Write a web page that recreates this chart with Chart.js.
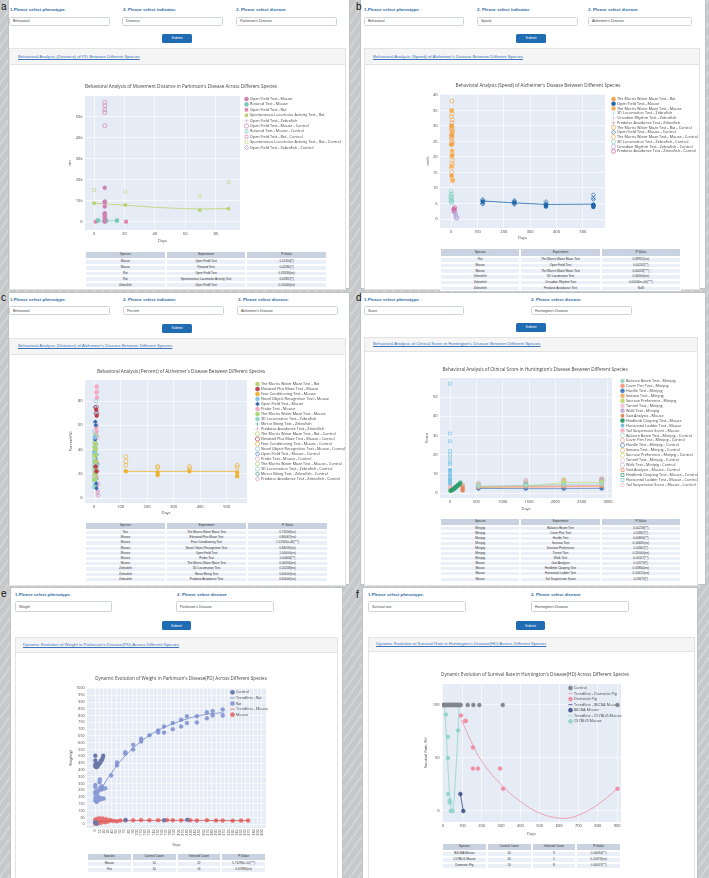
<!DOCTYPE html>
<html><head><meta charset="utf-8">
<script src="https://cdn.jsdelivr.net/npm/chart.js@4.4.1/dist/chart.umd.min.js"></script>
<style>
html,body{margin:0;padding:0}
body{width:709px;height:878px;overflow:hidden;position:relative;font-family:'Liberation Sans',Arial,sans-serif;
background:repeating-linear-gradient(125deg,#c6c8ca 0px,#c6c8ca 5px,#d2d4d6 5px,#d2d4d6 7px);}
div{box-sizing:border-box}
.card{position:absolute;background:#fff;border:1px solid #bfc3c7}
.ltr{position:absolute;font-size:10px;line-height:10px;color:#111;font-family:'Liberation Sans',Arial,sans-serif}
.lab{position:absolute;font-size:4.4px;line-height:4.4px;font-weight:bold;color:#2f6aa3;white-space:nowrap}
.inp{position:absolute;border:0.6px solid #cfd3d8;border-radius:1.5px;background:#fff;font-size:3.5px;color:#444;padding-left:3px;display:flex;align-items:center;white-space:nowrap}
.btn{position:absolute;background:#1f6cb3;color:#fff;border-radius:1.5px;font-size:3.5px;display:flex;align-items:center;justify-content:center}
.inner{position:absolute;border:0.6px solid #e3e3e3;background:#fff}
.hdr{position:absolute;background:#f5f5f5;border:0.6px solid #e3e3e3}
.lnk{position:absolute;font-size:4.3px;line-height:4.3px;color:#3a74bd;text-decoration:underline;white-space:nowrap}
.th,.td{position:absolute;display:flex;align-items:center;justify-content:center;font-size:3.1px;line-height:1;color:#333;border:0.35px solid #fff;white-space:nowrap}
.th{background:#c8d2e0}
.td{background:#ebf0f8}
canvas{position:absolute}
</style></head>
<body>
<script>
// ====================== DATA ======================
// Panel a : distance (cm), Parkinson's disease
const A_XTICKS = [0,20,40,60,80];
const A_YTICKS = [0,10000,20000,30000,40000,50000];
const A_OF_MOUSE   = [[7,16200],[7,9700],[7,9200],[7,7300],[7,4100],[7,2900],[7,1900],[7,300]];
const A_RR_MOUSE   = [[2.5,600],[8,500],[15,600]];
const A_OF_RAT     = [[1,100],[7,200],[21,100]];
const A_SLA_RAT    = [[0,8900],[20.5,8100],[69.5,5600],[88.5,6300]];
const A_OF_ZF      = [[7,4300],[7,3600],[7,1400],[7,600]];
const A_OF_MOUSE_C = [[7,56800],[7,55200],[7,53300],[7,51900],[7,45700],[7,3800],[7,400]];
const A_RR_MOUSE_C = [[2.5,900],[8,900],[15,900]];
const A_OF_RAT_C   = [[1,200],[7,400],[21,200]];
const A_SLA_RAT_C  = [[0,15200],[20.5,14300],[69.5,12500],[88.5,19000]];
const A_OF_ZF_C    = [[7,900],[7,300]];
const A_SLA_TREND  = [[0,8900],[20,8000],[45,6800],[70,6200],[88.5,6400]];
const A_HEAD = ['Species','Experiment','P-Value'];
const A_SPECIES = ['Mouse','Mouse','Rat','Rat','Zebrafish'];
const A_EXPERIMENT = ['Open Field Test','Rotarod Test','Open Field Test','Spontaneous Locomotor Activity Test','Open Field Test'];
const A_PVALUE = ['0.01300(*)','0.02381(*)','0.33333(ns)','0.02857(*)','0.10000(ns)'];

// Panel b : speed (cm/s), Alzheimer's disease
const B_XTICKS = [0,100,200,300,400,500];
const B_YTICKS = [0,5,10,15,20,25,30,35,40];
const B_MWM_RAT    = [[2,30],[3,27],[1,24],[4,20.5],[2,14]];
const B_OF_MOUSE   = [[120,5.6],[240,5.3],[360,4.5],[360,4.0],[540,4.3],[540,3.9],[540,4.6]];
const B_MWM_MOUSE  = [[3,35],[5,28],[4,22],[2,17],[6,12.5]];
const B_3D_ZF      = [[0,8.5],[2,7.5],[-1,6.5],[3,6],[1,5.5]];
const B_CR_ZF      = [[14,2.5],[16,1.8],[18,1.2]];
const B_PA_ZF      = [[11,3.5],[13,3],[12,2.6]];
const B_MWM_RAT_C  = [[3,38],[2,35],[4,34],[1,33],[5,32],[3,31],[2,30],[4,29.5],[1,29],[5,28.5],[3,28],[2,27],[4,26.5],[1,26],[3,25],[5,24.5],[2,24]];
const B_OF_MOUSE_C = [[120,6.3],[120,5.9],[120,5.0],[120,4.8],[240,6.0],[240,5.6],[240,5.0],[240,4.7],[360,5.6],[360,5.0],[360,4.6],[540,7.8],[540,6.8],[540,6.3],[540,4.5]];
const B_MWM_MOUSE_C= [[4,21],[2,20],[6,19],[3,18],[5,17.5],[1,16.5],[3,15],[4,13],[6,12.3]];
const B_3D_ZF_C    = [[0,9],[2,8],[-1,7.2],[1,6.8],[3,6.2],[0,5.8],[2,5.2]];
const B_CR_ZF_C    = [[15,2.2],[17,1.5],[19,0.8],[20,0.5],[21,0.2]];
const B_PA_ZF_C    = [[10,3.2],[12,2.8],[14,3.6],[11,2.4]];
const B_OF_MEAN    = [[120,5.8],[240,5.2],[360,4.7],[540,4.8]];
const B_SPECIES = ['Rat','Mouse','Mouse','Zebrafish','Zebrafish','Zebrafish'];
const B_EXPERIMENT = ['The Morris Water Maze Test','Open Field Test','The Morris Water Maze Test','3D Locomotion Test','Circadian Rhythm Test','Predator Avoidance Test'];
const B_PVALUE = ['0.69952(ns)','0.00242(**)','0.00023(***)','0.64000(ns)','0.00000e+00(***)','NaN'];

// Panel c : percent (%), Alzheimer's disease
const C_XTICKS = [0,100,200,300,400,500];
const C_YTICKS = [0,20,40,60,80];
const C_MWM_RAT     = [[5,45],[7,40],[3,35],[6,30]];
const C_EPM_MOUSE   = [[8,73],[10,68],[6,26],[9,22]];
const C_FC_MOUSE    = [[120,22],[240,21],[240,19],[360,22],[540,21],[540,18]];
const C_NOR_MOUSE   = [[3,50],[5,45],[2,38],[4,30]];
const C_OF_MOUSE    = [[5,63],[7,60],[4,48],[6,45],[8,12],[9,8]];
const C_PROBE_MOUSE = [[10,92],[9,87],[11,83],[8,58],[10,55]];
const C_MWM_MOUSE   = [[2,42],[4,36],[3,30],[5,25],[6,20],[2,15]];
const C_3D_ZF       = [[0,35],[2,30],[1,25],[3,20],[0,15],[2,10]];
const C_MB_ZF       = [[7,42],[9,33],[12,25],[8,20]];
const C_PA_ZF       = [[12,18],[14,10],[15,6],[13,3]];
const C_MWM_RAT_C   = [[4,52],[6,44],[2,38]];
const C_EPM_MOUSE_C = [[9,75],[11,70],[7,30]];
const C_FC_MOUSE_C  = [[120,34],[120,30],[120,27],[240,26],[240,25],[360,26],[360,24],[540,27],[540,25],[3,20],[5,17]];
const C_NOR_MOUSE_C = [[7,80],[5,62],[3,55],[6,28]];
const C_OF_MOUSE_C  = [[4,75],[6,70],[5,50],[8,10]];
const C_PROBE_MOUSE_C=[[11,88],[9,60],[12,50],[10,22]];
const C_MWM_MOUSE_C = [[3,46],[5,40],[2,33],[4,28],[6,22],[3,18]];
const C_3D_ZF_C     = [[1,38],[3,32],[0,27],[2,22],[1,17],[3,13],[0,9]];
const C_MB_ZF_C     = [[8,52],[10,36],[13,28],[9,16]];
const C_PA_ZF_C     = [[13,22],[15,12],[14,5],[16,2]];
const C_FC_MEAN     = [[120,22],[240,22],[360,22],[540,22]];
const C_SPECIES = ['Rat','Mouse','Mouse','Mouse','Mouse','Mouse','Mouse','Zebrafish','Zebrafish','Zebrafish'];
const C_EXPERIMENT = ['The Morris Water Maze Test','Elevated Plus Maze Test','Fear Conditioning Test','Novel Object Recognition Test','Open Field Test','Probe Test','The Morris Water Maze Test','3D Locomotion Test','Mirror Biting Test','Predator Avoidance Test'];
const C_PVALUE = ['0.73206(ns)','0.80067(ns)','1.12565e-06(***)','0.84035(ns)','1.00000(ns)','0.00606(**)','0.06056(ns)','0.20208(ns)','0.60000(ns)','0.60000(ns)'];

// Panel d : clinical score, Huntington's disease
const D_XTICKS = [0,500,1000,1500,2000,2500,3000];
const D_YTICKS = [0,10,20,30,40,50];
const D_BB_MINI  = [[540,3.6],[1440,4],[2160,4.5],[2880,4.8]];
const D_CP_MINI  = [[540,3.2],[1440,3.4],[2160,3.5],[2880,3.8]];
const D_HU_MINI  = [[540,2.4],[1440,2.3],[2160,2.3],[2880,2.4]];
const D_SS_MINI  = [[540,3],[1440,3.1],[2160,3.3],[2880,3.5]];
const D_SP_MINI  = [[540,2.8],[1440,3.4],[2160,5.5],[2880,5.6]];
const D_TU_MINI  = [[540,2.6],[1440,2.8],[2160,3],[2880,3]];
const D_WA_MINI  = [[540,3.4],[1440,3.7],[2160,3.8],[2880,4]];
const D_GA_MOUSE = [[240,2.5],[240,1.8],[240,1.2]];
const D_HC_MOUSE = [[10,1.2],[30,1.5],[50,1.8],[70,2],[90,2.5],[110,3],[130,3.5],[150,4],[170,4.5],[190,5]];
const D_HL_MOUSE = [[0,12],[0,9],[0,7],[0,6],[0,5]];
const D_TS_MOUSE = [[0,2],[5,3]];
const D_BB_MINI_C  = [[540,4.8],[1440,5.2],[2160,5.5],[2880,6]];
const D_CP_MINI_C  = [[540,4.5],[1440,6],[2160,6.2],[2880,7]];
const D_HU_MINI_C  = [[540,3],[1440,4.5],[2160,4],[2880,6.5]];
const D_SS_MINI_C  = [[540,4],[1440,5],[2160,6.5],[2880,6.8]];
const D_SP_MINI_C  = [[540,3.8],[1440,4.5],[2160,7],[2880,5.5]];
const D_TU_MINI_C  = [[540,4.2],[1440,5.5],[2160,5.8],[2880,7.2]];
const D_WA_MINI_C  = [[540,5],[1440,6.5],[2160,6],[2880,7.5]];
const D_GA_MOUSE_C = [[240,4],[240,3.2],[240,2.5],[240,1.5]];
const D_HC_MOUSE_C = [[20,2],[60,2.5],[100,3],[140,3.8],[180,4.5],[200,5.5]];
const D_HL_MOUSE_C = [[0,57],[0,31],[0,27],[0,22],[0,20],[0,18],[0,16],[0,15],[0,12],[0,11],[0,10],[0,8],[0,7],[0,6],[0,5]];
const D_TS_MOUSE_C = [[0,3],[5,4]];
const D_SPECIES = ['Minipig','Minipig','Minipig','Minipig','Minipig','Minipig','Minipig','Mouse','Mouse','Mouse','Mouse'];
const D_EXPERIMENT = ['Balance Beam Test','Cover Pen Test','Hurdle Test','Seesaw Test','Sucrose Preference','Tunnel Test','Walk Test','Gait Analysis','Hindlimb Clasping Test','Horizontal Ladder Test','Tail Suspension Score'];
const D_PVALUE = ['0.00218(**)','0.02667(*)','0.00856(**)','0.14665(ns)','0.02667(*)','0.20000(ns)','0.00117(**)','0.02273(*)','0.05864(ns)','0.10615(ns)','0.03175(*)'];

// Panel e : weight (g), Parkinson's disease
const E_XTICKS = [0,10,20,30,40,50,60,70,80,90,100,110,120,130,140,150,160,170,180,190,200,210,220,230,240,250,260,270,280,290,300,310,320,330,340,350,360,370,380,390,400];
const E_YTICKS = [0,50,100,150,200,250,300,350,400,450,500,550,600,650,700,750,800,850,900,950,1000];
const E_CONTROL = [[0,425],[0,440],[0,470],[0,505],[2,430],[3,420],[4,445],[5,425],[6,435],[8,440],[10,450],[12,455],[14,470],[16,475],[18,490],[19,505],[0,15],[3,5],[73,32],[165,30],[221,33]];
const E_RAT = [[0,175],[0,195],[0,225],[0,240],[0,275],[0,290],[3,165],[3,185],[4,210],[5,235],[6,250],[7,175],[8,190],[9,200],[10,310],[11,330],[12,270],[13,255],[14,185],[15,280],[16,265],[17,190],[18,260],[20,190],[24,265],[38,360],[52,455],[52,435],[72,520],[72,530],[91,585],[91,550],[110,630],[110,610],[130,655],[151,690],[151,675],[165,720],[165,675],[186,745],[186,700],[206,720],[206,770],[220,745],[220,795],[244,750],[244,795],[268,825],[268,780],[282,833],[282,800],[306,845],[306,800]];
const E_RAT_TREND = [[12,250],[38,375],[72,505],[110,610],[150,690],[200,755],[250,800],[300,820],[310,818]];
const E_MOUSE = [[0,5],[0,20],[0,35],[2,10],[2,28],[4,15],[4,40],[6,22],[6,32],[8,8],[8,38],[10,18],[10,45],[12,25],[14,12],[14,35],[16,28],[18,42],[20,20],[22,30],[24,15],[26,38],[28,25],[30,20],[34,32],[38,28],[44,25],[52,22],[60,28],[72,30],[91,30],[110,32],[130,30],[151,30],[172,32],[186,30],[206,30],[228,30],[244,28],[268,30],[290,28],[306,28],[330,27],[350,28],[367,28]];
const E_MOUSE_TREND = [[0,22],[100,28],[200,29],[300,28],[367,27]];
const E_HEAD = ['Species','Control Count','Infected Count','P-Value'];
const E_SPECIES = ['Mouse','Rat'];
const E_CONTROL_N = ['14','14'];
const E_INFECTED_N = ['22','14'];
const E_PVALUE = ['5.71298e-10(***)','0.67894(ns)'];

// Panel f : survival rate (%), Huntington's disease
const F_XTICKS = [0,100,200,300,400,500,600,700,800,900];
const F_YTICKS = [0,50,100];
const F_CONTROL = [[0,100],[4,100],[8,100],[12,100],[16,100],[20,100],[24,100],[28,100],[32,100],[36,100],[40,100],[44,100],[48,100],[52,100],[56,100],[60,100],[64,100],[68,100],[72,100],[76,100],[80,100],[84,100],[88,100],[92,100],[128,100],[157,100],[188,100],[309,100],[902,100]];
const F_PIG_TREND = [[95,86],[150,64],[200,47],[300,25],[400,9],[500,-2],[615,-7],[700,-4],[800,6],[902,21]];
const F_PIG = [[93,90],[114,85],[119,85],[155,60],[155,40],[181,40],[295,40],[311,21],[902,21]];
const F_B6_TREND = [[90,16],[105,0]];
const F_B6 = [[90,16],[105,0]];
const F_C57_TREND = [[8,100],[15,80],[22,55],[30,28],[38,8],[45,0],[52,2],[60,18],[70,48],[78,76],[84,100]];
const F_C57 = [[15,91],[26,70],[26,50],[26,16],[35,10],[36,8],[40,0],[50,0],[78,76]];
const F_SPECIES = ['B6CBA Mouse','C57BL/6 Mouse','Domestic Pig'];
const F_CONTROL_N = ['10','20','10'];
const F_INFECTED_N = ['3','2','8'];
const F_PVALUE = ['0.00034(**)','0.20473(ns)','0.00057(**)'];

// ====================== HELPERS ======================
Chart.defaults.font.family = "'Open Sans', sans-serif";
Chart.defaults.color = '#444';
const OPEN = 'rgba(255,255,255,0)';
function pts(a){ return a.map(p => ({x:p[0], y:p[1]})); }
function ser(label, data, color, style, open, extra){
  return Object.assign({label, data: pts(data), pointStyle: style || 'circle',
    borderColor: color, backgroundColor: open ? OPEN : color,
    pointBackgroundColor: open ? OPEN : color, pointBorderColor: color,
    pointRadius: 2, pointBorderWidth: open ? 0.7 : 0.4, borderWidth: 0.7, showLine: false}, extra || {});
}
function line(label, data, color, extra){
  return Object.assign({label, data: pts(data), pointStyle: 'line', borderColor: color, backgroundColor: color,
    showLine: true, pointRadius: 0, borderWidth: 0.8, tension: 0.4}, extra || {});
}
function el(cls, l, t, w, h, text, extra){
  const e = document.createElement('div'); e.className = cls;
  Object.assign(e.style, {left: l+'px', top: t+'px'});
  if (w != null) e.style.width = w+'px';
  if (h != null) e.style.height = h+'px';
  if (extra) Object.assign(e.style, extra);
  if (text != null) e.textContent = text;
  document.body.appendChild(e); return e;
}
function table(l, t, w, hh, rh, head, cols){
  const n = head.length, cw = w / n;
  head.forEach((h, i) => el('th', l + i*cw, t, cw, hh, h));
  cols[0].forEach((_, r) => cols.forEach((c, i) => el('td', l + i*cw, t + hh + r*rh, cw, rh, c[r])));
}
function ui(p){
  el('card', p.card[0], p.card[1], p.card[2]-p.card[0], p.card[3]-p.card[1]);
  el('ltr', p.letter[0], p.letter[1], null, null, p.letterText);
  p.labels.forEach(q => el('lab', q[0], q[1]-2.2, null, null, q[2]));
  p.inputs.forEach(q => el('inp', q[0], q[1], q[2]-q[0], q[3], q[4]));
  el('btn', p.btn[0], p.btn[1], p.btn[2], p.btn[3], 'Submit');
  el('inner', p.inner[0], p.inner[1], p.inner[2]-p.inner[0], p.inner[3]-p.inner[1]);
  el('hdr', p.inner[0], p.inner[1], p.inner[2]-p.inner[0], p.hdrH);
  el('lnk', p.link[0], p.link[1]-2.2, null, null, p.link[2]);
}
const plotBg = {id:'plotBg', beforeDraw(c){ const a = c.chartArea, x = c.ctx; x.save(); x.fillStyle = '#E5ECF6'; x.fillRect(a.left, a.top, a.right-a.left, a.bottom-a.top); x.restore(); }};
const legendPlace = {id:'legendPlace', afterLayout(c, args, o){ if (!o || o.left == null) return; const lg = c.legend;
  lg.left = o.left; lg.top = o.top; lg.right = o.right; lg.bottom = o.bottom; lg.width = o.right-o.left; lg.height = o.bottom-o.top; }};
const fmt = v => String(v);

function chart(s, datasets){
  const tf = s.tf || 4.6, af = s.af || 4.0, lf = s.lf || 3.8;
  const lhT = tf*1.2, lhA = af*1.2;
  const yLeft = s.yTitleX - lhA/2;
  const cl = Math.floor(yLeft) - 1, padL = yLeft - cl;
  const ct = Math.floor(s.titleY - lhT/2) - 1, padT = (s.titleY - lhT/2) - ct;
  const cb = s.xTitleY + lhA/2;
  const W = Math.round(s.canvasRight - cl), H = Math.ceil(cb - ct) + 1, padB = (ct + H) - cb;
  const cr = cl + W;
  const padR = (cl + padL) + cr - 2*s.titleX;
  const M = cr - padR - s.R;
  const yw = s.L - yLeft, xh = cb - s.B;
  const tPadB = s.T - (s.titleY + lhT/2);
  const lp = s.legendSp - lf;
  const bw = s.bw || 3;
  const cv = document.createElement('canvas');
  cv.width = W; cv.height = H;
  Object.assign(cv.style, {left: cl+'px', top: ct+'px', width: W+'px', height: H+'px'});
  document.body.appendChild(cv);
  const lgLeft = s.legendX - cl - lp;
  const lgTop = s.legendY0 - ct - lp - lf/2;
  new Chart(cv, {
    type: 'scatter',
    data: {datasets},
    plugins: [plotBg, legendPlace],
    options: {
      responsive: false, animation: false, devicePixelRatio: 1, events: [],
      layout: {padding: {left: padL, right: padR, top: padT, bottom: padB}},
      plugins: {
        tooltip: {enabled: false},
        title: {display: true, text: s.title, font: {size: tf, weight: 'normal'}, color: '#444', padding: {top: 0, bottom: tPadB}},
        legend: {display: true, position: 'right', align: 'start', maxWidth: M,
          labels: {usePointStyle: true, boxWidth: bw, boxHeight: s.bh || 3, padding: lp, font: {size: lf}, color: '#444',
            filter: it => it.text !== ''}},
        legendPlace: {left: lgLeft, top: lgTop, right: s.legendInside ? lgLeft + 60 : W, bottom: s.legendInside ? lgTop + 50 : H}
      },
      scales: {
        x: {type: 'linear', min: s.x.min, max: s.x.max, afterFit: sc => { sc.height = xh; },
          afterBuildTicks: sc => { sc.ticks = s.x.ticks.map(v => ({value: v})); },
          grid: {color: '#fff', lineWidth: 0.6, drawTicks: false}, border: {display: false},
          ticks: Object.assign({autoSkip: false, maxRotation: 0, minRotation: 0, padding: 1.5, font: {size: af}, color: '#444', callback: s.x.fmt || fmt}, s.x.opt || {}),
          title: {display: true, text: s.xTitle || 'Days', font: {size: af}, color: '#444', padding: 0}},
        y: {type: 'linear', min: s.y.min, max: s.y.max, afterFit: sc => { sc.width = yw; },
          afterBuildTicks: sc => { sc.ticks = s.y.ticks.map(v => ({value: v})); },
          grid: {color: '#fff', lineWidth: 0.6, drawTicks: false}, border: {display: false},
          ticks: Object.assign({autoSkip: false, padding: 2.5, font: {size: af}, color: '#444', callback: s.y.fmt || fmt}, s.y.opt || {}),
          title: {display: true, text: s.yTitle, font: {size: af}, color: '#444', padding: 0}}
      }
    }
  });
}

// ====================== PANEL A ======================
ui({card:[8,-2,350,289], letter:[1,2], letterText:'a',
  labels:[[10,10,'1.Please select phenotype.'],[123,10,'2. Please select indicator.'],[236,10,'3. Please select disease']],
  inputs:[[9,17,110,8.5,'Behavioral'],[122,17,223,8.5,'Distance'],[236,17,337,8.5,"Parkinson's Disease"]],
  btn:[162,34,30,8.5], inner:[9,48,346,290], hdrH:17,
  link:[18,57,'Behavioral Analysis (Distance) of PD Between Different Species']});
chart({L:85,T:96,R:240,B:230,titleX:181,titleY:87,yTitleX:70,xTitleY:241,canvasRight:346,legendX:245,legendY0:99,legendSp:5.4,
  title:"Behavioral Analysis of Movement Distance in Parkinson's Disease Across Different Species", yTitle:'cm',
  x:{min:-6,max:96,ticks:A_XTICKS}, y:{min:-3800,max:59800,ticks:A_YTICKS,fmt:v => v === 0 ? '0' : (v/1000)+'k'}},
 [ser('Open Field Test - Mouse', A_OF_MOUSE, '#cf7fb4', 'circle'),
  ser('Rotarod Test - Mouse', A_RR_MOUSE, '#78c7b8', 'circle', false, {showLine:true}),
  ser('Open Field Test - Rat', A_OF_RAT, '#e07fb0', 'rect'),
  ser('Spontaneous Locomotor Activity Test - Rat', A_SLA_RAT, '#b7d46a', 'rect'),
  ser('Open Field Test - Zebrafish', A_OF_ZF, '#a784d3', 'cross'),
  ser('Open Field Test - Mouse - Control', A_OF_MOUSE_C, '#cf7fb4', 'circle', true),
  ser('Rotarod Test - Mouse - Control', A_RR_MOUSE_C, '#78c7b8', 'rect', true),
  ser('Open Field Test - Rat - Control', A_OF_RAT_C, '#e07fb0', 'rect', true),
  ser('Spontaneous Locomotor Activity Test - Rat - Control', A_SLA_RAT_C, '#c5d88a', 'rect', true),
  ser('Open Field Test - Zebrafish - Control', A_OF_ZF_C, '#a784d3', 'rectRot', true),
  line('', A_SLA_TREND, '#b7d46a')]);
table(85, 251, 242, 8, 5.8, A_HEAD, [A_SPECIES, A_EXPERIMENT, A_PVALUE]);

// ====================== PANEL B ======================
ui({card:[360,-2,706,289], letter:[356,2], letterText:'b',
  labels:[[364,10,'1.Please select phenotype.'],[477,10,'2. Please select indicator.'],[588,10,'3. Please select disease']],
  inputs:[[364,17,464,8.5,'Behavioral'],[477,17,578,8.5,'Speed'],[588,17,692,8.5,"Alzheimer's Disease"]],
  btn:[516,34,30,8.5], inner:[364,48,700,290], hdrH:17,
  link:[373,57,"Behavioral Analysis (Speed) of Alzheimer's Disease Between Different Species"]});
chart({L:440,T:94,R:605,B:228,titleX:538,titleY:86,yTitleX:428,xTitleY:238,canvasRight:700,legendX:612,legendY0:99,legendSp:4.75,
  title:"Behavioral Analysis (Speed) of Alzheimer's Disease Between Different Species", yTitle:'cm/s',
  x:{min:-42,max:584,ticks:B_XTICKS}, y:{min:-2.9,max:40.3,ticks:B_YTICKS}},
 [ser('The Morris Water Maze Test - Rat', B_MWM_RAT, '#f3a34b', 'circle'),
  ser('Open Field Test - Mouse', B_OF_MOUSE, '#1f66a8', 'circle'),
  ser('The Morris Water Maze Test - Mouse', B_MWM_MOUSE, '#f7b25e', 'circle'),
  ser('3D Locomotion Test - Zebrafish', B_3D_ZF, '#86d0c4', 'cross'),
  ser('Circadian Rhythm Test - Zebrafish', B_CR_ZF, '#b8a4d8', 'cross'),
  ser('Predator Avoidance Test - Zebrafish', B_PA_ZF, '#d0589c', 'cross'),
  ser('The Morris Water Maze Test - Rat - Control', B_MWM_RAT_C, '#f3a34b', 'circle', true),
  ser('Open Field Test - Mouse - Control', B_OF_MOUSE_C, '#1f66a8', 'rectRot', true),
  ser('The Morris Water Maze Test - Mouse - Control', B_MWM_MOUSE_C, '#f7b25e', 'circle', true),
  ser('3D Locomotion Test - Zebrafish - Control', B_3D_ZF_C, '#86d0c4', 'circle', true),
  ser('Circadian Rhythm Test - Zebrafish - Control', B_CR_ZF_C, '#b8a4d8', 'circle', true),
  ser('Predator Avoidance Test - Zebrafish - Control', B_PA_ZF_C, '#d0589c', 'circle', true),
  line('', B_OF_MEAN, '#1f66a8', {tension:0})]);
table(440, 248, 241, 9, 5.7, A_HEAD, [B_SPECIES, B_EXPERIMENT, B_PVALUE]);

// ====================== PANEL C ======================
ui({card:[8,292,350,585], letter:[1,293], letterText:'c',
  labels:[[10,300,'1.Please select phenotype.'],[123,300,'2. Please select indicator.'],[238,300,'3. Please select disease.']],
  inputs:[[9,306,110,9,'Behavioral'],[123,306,224,9,'Percent'],[237,306,338,9,"Alzheimer's Disease"]],
  btn:[162,324,30,8.5], inner:[9,338,346,586], hdrH:17,
  link:[18,346,"Behavioral Analysis (Distance) of Alzheimer's Disease Between Different Species"]});
chart({L:85,T:380,R:247,B:503,titleX:181,titleY:372,yTitleX:71,xTitleY:513,canvasRight:346,legendX:256,legendY0:384,legendSp:5.0,
  title:"Behavioral Analysis (Percent) of Alzheimer's Disease Between Different Species", yTitle:'Percent(%)',
  x:{min:-34,max:577,ticks:C_XTICKS}, y:{min:-4.1,max:97.4,ticks:C_YTICKS}},
 [ser('The Morris Water Maze Test - Rat', C_MWM_RAT, '#b5d66c', 'circle'),
  ser('Elevated Plus Maze Test - Mouse', C_EPM_MOUSE, '#b8404a', 'circle'),
  ser('Fear Conditioning Test - Mouse', C_FC_MOUSE, '#eeb22e', 'circle'),
  ser('Novel Object Recognition Test - Mouse', C_NOR_MOUSE, '#86c3e6', 'circle'),
  ser('Open Field Test - Mouse', C_OF_MOUSE, '#2e67ad', 'rectRot'),
  ser('Probe Test - Mouse', C_PROBE_MOUSE, '#f3a7c2', 'circle'),
  ser('The Morris Water Maze Test - Mouse', C_MWM_MOUSE, '#a6d675', 'circle'),
  ser('3D Locomotion Test - Zebrafish', C_3D_ZF, '#95d6c8', 'circle'),
  ser('Mirror Biting Test - Zebrafish', C_MB_ZF, '#26876f', 'cross'),
  ser('Predator Avoidance Test - Zebrafish', C_PA_ZF, '#d47fb5', 'cross'),
  ser('The Morris Water Maze Test - Rat - Control', C_MWM_RAT_C, '#b5d66c', 'circle', true),
  ser('Elevated Plus Maze Test - Mouse - Control', C_EPM_MOUSE_C, '#b8404a', 'circle', true),
  ser('Fear Conditioning Test - Mouse - Control', C_FC_MOUSE_C, '#eeb22e', 'circle', true),
  ser('Novel Object Recognition Test - Mouse - Control', C_NOR_MOUSE_C, '#86c3e6', 'circle', true),
  ser('Open Field Test - Mouse - Control', C_OF_MOUSE_C, '#2e67ad', 'rectRot', true),
  ser('Probe Test - Mouse - Control', C_PROBE_MOUSE_C, '#f3a7c2', 'circle', true),
  ser('The Morris Water Maze Test - Mouse - Control', C_MWM_MOUSE_C, '#a6d675', 'circle', true),
  ser('3D Locomotion Test - Zebrafish - Control', C_3D_ZF_C, '#95d6c8', 'circle', true),
  ser('Mirror Biting Test - Zebrafish - Control', C_MB_ZF_C, '#26876f', 'rectRot', true),
  ser('Predator Avoidance Test - Zebrafish - Control', C_PA_ZF_C, '#d47fb5', 'rectRot', true),
  line('', C_FC_MEAN, '#eeb22e', {tension:0})]);
table(85, 522, 243, 8, 5.2, A_HEAD, [C_SPECIES, C_EXPERIMENT, C_PVALUE]);

// ====================== PANEL D ======================
ui({card:[360,292,706,585], letter:[356,293], letterText:'d',
  labels:[[364,300,'1.Please select phenotype.'],[531,300,'2. Please select disease']],
  inputs:[[364,306,464,9,'Score'],[531,306,632,9,"Huntington's Disease"]],
  btn:[516,323,30,8.5], inner:[364,337,698,586], hdrH:15,
  link:[373,344,"Behavioral Analysis of Clinical Score in Huntington's Disease Between Different Species"]});
chart({L:440,T:378,R:612,B:498,titleX:535,titleY:370,yTitleX:427,xTitleY:509,canvasRight:698,legendX:621,legendY0:381,legendSp:4.95,
  title:"Behavioral Analysis of Clinical Score in Huntington's Disease Between Different Species", yTitle:'Score',
  x:{min:-190,max:3076,ticks:D_XTICKS}, y:{min:-2.6,max:60,ticks:D_YTICKS}},
 [ser('Balance Beam Test - Minipig', D_BB_MINI, '#9fd8c6', 'circle', false, {showLine:true}),
  ser('Cover Pen Test - Minipig', D_CP_MINI, '#f2a08a', 'circle', false, {showLine:true}),
  ser('Hurdle Test - Minipig', D_HU_MINI, '#4a80bd', 'circle', false, {showLine:true}),
  ser('Seesaw Test - Minipig', D_SS_MINI, '#f5b06a', 'circle', false, {showLine:true}),
  ser('Sucrose Preference - Minipig', D_SP_MINI, '#c3da70', 'circle', false, {showLine:true}),
  ser('Tunnel Test - Minipig', D_TU_MINI, '#f2c3d6', 'circle', false, {showLine:true}),
  ser('Walk Test - Minipig', D_WA_MINI, '#c6b4da', 'circle', false, {showLine:true}),
  ser('Gait Analysis - Mouse', D_GA_MOUSE, '#e8835a', 'rect'),
  ser('Hindlimb Clasping Test - Mouse', D_HC_MOUSE, '#2e9e6a', 'circle'),
  ser('Horizontal Ladder Test - Mouse', D_HL_MOUSE, '#7cc3e6', 'rect'),
  ser('Tail Suspension Score - Mouse', D_TS_MOUSE, '#f7b7c6', 'circle'),
  ser('Balance Beam Test - Minipig - Control', D_BB_MINI_C, '#9fd8c6', 'circle', true),
  ser('Cover Pen Test - Minipig - Control', D_CP_MINI_C, '#f2a08a', 'circle', true),
  ser('Hurdle Test - Minipig - Control', D_HU_MINI_C, '#4a80bd', 'circle', true),
  ser('Seesaw Test - Minipig - Control', D_SS_MINI_C, '#f5b06a', 'circle', true),
  ser('Sucrose Preference - Minipig - Control', D_SP_MINI_C, '#c3da70', 'circle', true),
  ser('Tunnel Test - Minipig - Control', D_TU_MINI_C, '#f2c3d6', 'circle', true),
  ser('Walk Test - Minipig - Control', D_WA_MINI_C, '#c6b4da', 'circle', true),
  ser('Gait Analysis - Mouse - Control', D_GA_MOUSE_C, '#e8835a', 'rect', true),
  ser('Hindlimb Clasping Test - Mouse - Control', D_HC_MOUSE_C, '#2e9e6a', 'rect', true),
  ser('Horizontal Ladder Test - Mouse - Control', D_HL_MOUSE_C, '#7cc3e6', 'rect', true),
  ser('Tail Suspension Score - Mouse - Control', D_TS_MOUSE_C, '#f7b7c6', 'rect', true)]);
table(440, 517.5, 241, 8, 5.1, A_HEAD, [D_SPECIES, D_EXPERIMENT, D_PVALUE]);

// ====================== PANEL E ======================
ui({card:[10,587,343,880], letter:[1,589], letterText:'e',
  labels:[[15,595,'1.Please select phenotype.'],[177,595,'2. Please select disease']],
  inputs:[[15,601,112,11,'Weight'],[176,601,274,11,"Parkinson's Disease"]],
  btn:[162,621,29,9], inner:[15,637,338,882], hdrH:16,
  link:[23,645,"Dynamic Evolution of Weight in Parkinson's Disease(PD) Across Different Species"]});
chart({L:87,T:688,R:266,B:828,titleX:181,titleY:679,yTitleX:71,xTitleY:845,canvasRight:338,legendX:231,legendY0:692.3,legendSp:5.6,legendInside:true,
  title:"Dynamic Evolution of Weight in Parkinson's Disease(PD) Across Different Species", yTitle:'Weight(g)', af:3.6,
  x:{min:-20,max:410,ticks:E_XTICKS,opt:{maxRotation:90,minRotation:90}}, y:{min:-27,max:1003,ticks:E_YTICKS}},
 [ser('Control', E_CONTROL, '#6a78a8', 'circle'),
  line('Trendline - Rat', E_RAT_TREND, '#6f84c8'),
  ser('Rat', E_RAT, '#8a9bd6', 'circle'),
  line('Trendline - Mouse', E_MOUSE_TREND, '#d9534f'),
  ser('Mouse', E_MOUSE, '#e57373', 'circle')]);
table(87, 853, 179, 8, 6, E_HEAD, [E_SPECIES, E_CONTROL_N, E_INFECTED_N, E_PVALUE]);

// ====================== PANEL F ======================
ui({card:[362,587,698,880], letter:[356,590], letterText:'f',
  labels:[[368,595,'1.Please select phenotype.'],[531,595,'2. Please select disease']],
  inputs:[[368,601,466,11,'Survival rate'],[531,601,629,11,"Huntington's Disease"]],
  btn:[516,621,29,9], inner:[368,637,695,882], hdrH:15,
  link:[376,644,"Dynamic Evolution of Survival Rate in Huntington's Disease(HD) Across Different Species"]});
chart({L:442,T:684,R:621,B:822,titleX:535,titleY:675,yTitleX:426,xTitleY:834,canvasRight:695,legendX:569,legendY0:688,legendSp:5.55,legendInside:true,
  title:"Dynamic Evolution of Survival Rate in Huntington's Disease(HD) Across Different Species", yTitle:'Survival Rate (%)',
  x:{min:-5,max:920,ticks:F_XTICKS}, y:{min:-10.4,max:119.8,ticks:F_YTICKS}},
 [ser('Control', F_CONTROL, '#80858f', 'circle'),
  line('Trendline - Domestic Pig', F_PIG_TREND, '#ee8fa3'),
  ser('Domestic Pig', F_PIG, '#f08fa4', 'circle'),
  line('Trendline - B6CBA Mouse', F_B6_TREND, '#33457f', {tension:0}),
  ser('B6CBA Mouse', F_B6, '#4b5b96', 'circle'),
  line('Trendline - C57BL/6 Mouse', F_C57_TREND, '#8fd4ca'),
  ser('C57BL/6 Mouse', F_C57, '#93d5cb', 'circle')]);
table(442, 843, 179, 8, 6, E_HEAD, [F_SPECIES, F_CONTROL_N, F_INFECTED_N, F_PVALUE]);
</script>
</body></html>
